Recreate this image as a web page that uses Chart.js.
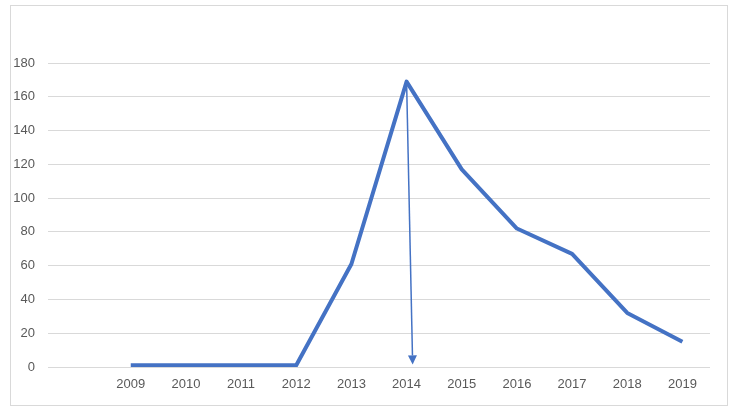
<!DOCTYPE html>
<html>
<head>
<meta charset="utf-8">
<script src="https://cdn.jsdelivr.net/npm/chart.js@4"></script>
<style>
html,body{margin:0;padding:0;background:#fff;}
#wrap{position:relative;width:733px;height:410px;}
#frame{position:absolute;left:10px;top:5px;width:716px;height:399px;border:1px solid #d9d9d9;}
canvas{position:absolute;left:0;top:0;}
</style>
</head>
<body>
<div id="wrap"><div id="frame"></div><canvas id="c" width="733" height="410"></canvas></div>
<script>
const categories = ['', '2009', '2010', '2011', '2012', '2013', '2014', '2015', '2016', '2017', '2018', '2019'];
const values = [null, 1, 1, 1, 1, 61, 169, 117, 82, 67, 32, 15];
const yTicks = [0, 20, 40, 60, 80, 100, 120, 140, 160, 180];
const arrowFrom = { index: 6, value: 169 };
const arrowTo = { index: 6.11, value: 1.5 };

const arrowPlugin = {
  id: 'arrow',
  afterDatasetsDraw(chart) {
    const x = chart.scales.x, y = chart.scales.y, ctx = chart.ctx;
    const x1 = x.getPixelForValue(arrowFrom.index), y1 = y.getPixelForValue(arrowFrom.value);
    const x2 = x.getPixelForValue(arrowTo.index), y2 = y.getPixelForValue(arrowTo.value);
    const ang = Math.atan2(y2 - y1, x2 - x1);
    const hl = 9, hw = 4.5;
    const bx = x2 - hl * Math.cos(ang), by = y2 - hl * Math.sin(ang);
    ctx.save();
    ctx.strokeStyle = '#4472C4';
    ctx.fillStyle = '#4472C4';
    ctx.lineWidth = 1.5;
    ctx.beginPath();
    ctx.moveTo(x1, y1);
    ctx.lineTo(bx, by);
    ctx.stroke();
    ctx.beginPath();
    ctx.moveTo(x2, y2);
    ctx.lineTo(bx + hw * Math.sin(ang), by - hw * Math.cos(ang));
    ctx.lineTo(bx - hw * Math.sin(ang), by + hw * Math.cos(ang));
    ctx.closePath();
    ctx.fill();
    ctx.restore();
  }
};

new Chart(document.getElementById('c'), {
  type: 'line',
  data: {
    labels: categories,
    datasets: [{
      data: values,
      borderColor: '#4472C4',
      borderWidth: 4,
      pointRadius: 0,
      tension: 0,
      fill: false,
      borderJoinStyle: 'round'
    }]
  },
  options: {
    responsive: false,
    animation: false,
    events: [],
    layout: { padding: { left: 0, right: 23, top: 63, bottom: 0 } },
    plugins: { legend: { display: false }, tooltip: { enabled: false } },
    scales: {
      x: {
        offset: true,
        grid: { display: false, drawTicks: false },
        border: { display: false },
        ticks: { color: '#595959', font: { family: 'Liberation Sans', size: 13 }, padding: 10, autoSkip: false, maxRotation: 0 },
        afterFit(s) { s.height = 43; }
      },
      y: {
        min: 0, max: 180,
        afterBuildTicks(s) { s.ticks = yTicks.map(v => ({ value: v })); },
        grid: { color: '#d9d9d9', lineWidth: 1, drawTicks: false },
        border: { display: false },
        ticks: { color: '#595959', font: { family: 'Liberation Sans', size: 13 }, padding: 13 },
        afterFit(s) { s.width = 48; }
      }
    }
  },
  plugins: [arrowPlugin]
});
</script>
</body>
</html>
